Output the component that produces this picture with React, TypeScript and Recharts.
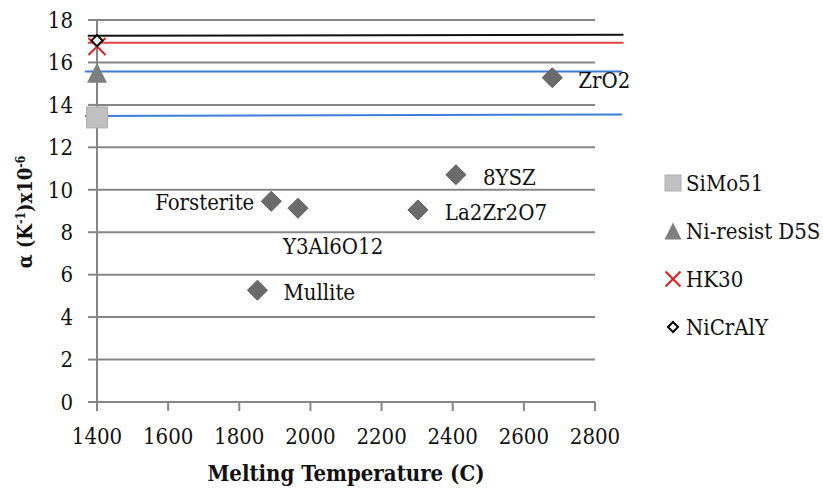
import React from 'react';
import {
  ScatterChart,
  Scatter,
  XAxis,
  YAxis,
  CartesianGrid,
  ReferenceLine,
  Label,
} from 'recharts';

// ceramics: melting temperature vs thermal expansion
const materialNames = ['ZrO2', '8YSZ', 'La2Zr2O7', 'Forsterite', 'Y3Al6O12', 'Mullite'];
const meltingTemps = [2680, 2409, 2302, 1890, 1965, 1851];
const alphaValues = [15.28, 10.71, 9.05, 9.46, 9.13, 5.27];

// metallic substrates/bond coats, plotted at 1400
const alloyNames = ['SiMo51', 'Ni-resist D5S', 'HK30', 'NiCrAlY'];
const alloyTemp = 1400;
const alloyAlphas = [13.41, 15.52, 16.75, 17.03];

// horizontal lines for each alloy: [start, end] alpha and temperature
const lineAlphaStart = [13.48, 15.57, 16.93, 17.26];
const lineAlphaEnd = [13.55, 15.57, 16.93, 17.3];
const lineTempStart = [1366, 1366, 1374, 1374];
const lineTempEnd = [2876, 2876, 2880, 2880];

const xTicks = [1400, 1600, 1800, 2000, 2200, 2400, 2600, 2800];
const yTicks = [0, 2, 4, 6, 8, 10, 12, 14, 16, 18];

const materials = materialNames.map((name, i) => ({ name, x: meltingTemps[i], y: alphaValues[i] }));
const alloys = alloyNames.map((name, i) => [{ name, x: alloyTemp, y: alloyAlphas[i] }]);

const FONT = '"DejaVu Serif Condensed", "DejaVu Serif", serif';
const GRID = '#868686';
const lineColors = ['#3b7dd8', '#3b7dd8', '#e0403f', '#111111'];

const labelPos: Record<string, [number, number, 'start' | 'end']> = {
  ZrO2: [26, 2, 'start'],
  '8YSZ': [27, 2, 'start'],
  La2Zr2O7: [27, 2, 'start'],
  Forsterite: [-17, 1, 'end'],
  Y3Al6O12: [-15, 38, 'start'],
  Mullite: [26, 2, 'start'],
};

const Diamond = (props: any) => {
  const { cx, cy, payload } = props;
  const [dx, dy, anchor] = labelPos[payload.name] || [20, 0, 'start'];
  return (
    <g>
      <path
        d={`M${cx},${cy - 10} L${cx + 10},${cy} L${cx},${cy + 10} L${cx - 10},${cy} Z`}
        fill="#6b6b6b"
        stroke="#5c5c5c"
        strokeWidth={1}
      />
      <text x={cx + dx} y={cy + dy} dy="0.36em" textAnchor={anchor} fontSize={22} fontFamily={FONT} fill="#111">
        {payload.name}
      </text>
    </g>
  );
};

const SquareMark = ({ cx, cy, s = 10.5 }: any) => (
  <rect x={cx - s} y={cy - s} width={s * 2} height={s * 2} fill="#c0c0c0" stroke="#b0b0b0" strokeWidth={1} />
);
const TriangleMark = ({ cx, cy, s = 10 }: any) => (
  <path d={`M${cx},${cy - s} L${cx + s},${cy + s} L${cx - s},${cy + s} Z`} fill="#7f7f7f" />
);
const CrossMark = ({ cx, cy, s = 8.5 }: any) => (
  <path
    d={`M${cx - s},${cy - s} L${cx + s},${cy + s} M${cx + s},${cy - s} L${cx - s},${cy + s}`}
    stroke="#e31c1c"
    strokeWidth={2}
    fill="none"
  />
);
const OpenDiamond = ({ cx, cy, s = 5.5 }: any) => (
  <path
    d={`M${cx},${cy - s} L${cx + s},${cy} L${cx},${cy + s} L${cx - s},${cy} Z`}
    fill="#fff"
    stroke="#000"
    strokeWidth={2}
  />
);

const markShapes = [SquareMark, TriangleMark, CrossMark, OpenDiamond];
const legendY = [183, 231, 279, 327];
const legendSizes = [8, 8.5, 7.5, 5];

const YTitle = () => (
  <text
    x={25}
    y={212}
    transform="rotate(-90 25 212)"
    textAnchor="middle"
    dy="0.36em"
    fontSize={20}
    fontWeight="bold"
    fontFamily={FONT}
    fill="#111"
  >
    α (K<tspan dy={-7} fontSize={12}>-1</tspan>
    <tspan dy={7}>)x10</tspan>
    <tspan dy={-7} fontSize={12}>-6</tspan>
  </text>
);

export default function App() {
  return (
    <div style={{ position: 'absolute', left: 0, top: 0, width: 823, height: 488, fontFamily: FONT, background: '#fff' }}>
      <ScatterChart width={823} height={488} margin={{ top: 20, right: 228, bottom: 0, left: 0 }}>
        <CartesianGrid vertical={false} stroke={GRID} strokeWidth={2} />
        <XAxis
          type="number"
          dataKey="x"
          domain={[1400, 2800]}
          ticks={xTicks}
          height={86}
          stroke={GRID}
          strokeWidth={2}
          tickSize={9}
          tickMargin={17}
          tick={{ fill: '#111', fontSize: 22, fontFamily: FONT }}
        >
          <Label
            value="Melting Temperature (C)"
            position="insideBottom"
            offset={7}
            fill="#111"
            fontSize={22}
            fontWeight="bold"
            fontFamily={FONT}
          />
        </XAxis>
        <YAxis
          type="number"
          dataKey="y"
          domain={[0, 18]}
          ticks={yTicks}
          width={97}
          stroke={GRID}
          strokeWidth={2}
          tickSize={9}
          tickMargin={15}
          tick={{ fill: '#111', fontSize: 22, fontFamily: FONT }}
        >
          <Label content={<YTitle />} />
        </YAxis>
        {alloyNames.map((name, i) => (
          <ReferenceLine
            key={name}
            segment={[
              { x: lineTempStart[i], y: lineAlphaStart[i] },
              { x: lineTempEnd[i], y: lineAlphaEnd[i] },
            ]}
            stroke={lineColors[i]}
            strokeWidth={2}
            ifOverflow="visible"
          />
        ))}
        <Scatter data={materials} shape={<Diamond />} isAnimationActive={false} />
        {alloyNames.map((name, i) => {
          const Shape = markShapes[i];
          return <Scatter key={name} data={alloys[i]} shape={<Shape />} isAnimationActive={false} />;
        })}
      </ScatterChart>
      <svg width={823} height={488} style={{ position: 'absolute', left: 0, top: 0, pointerEvents: 'none' }}>
        {alloyNames.map((name, i) => {
          const Shape = markShapes[i];
          const cy = legendY[i];
          return (
            <g key={name}>
              <Shape cx={673} cy={cy} s={legendSizes[i]} />
              <text x={686} y={cy} dy="0.36em" fontSize={22} fontFamily={FONT} fill="#111">
                {name}
              </text>
            </g>
          );
        })}
      </svg>
    </div>
  );
}
